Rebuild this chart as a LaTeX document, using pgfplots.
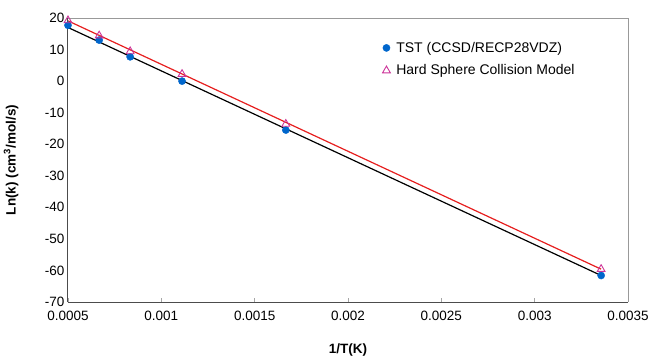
\documentclass[border=0pt]{standalone}
\usepackage{pgfplots}
\pgfplotsset{compat=1.18}
\usepackage{fontspec}
\setmainfont{Liberation Sans}
\definecolor{tstblue}{RGB}{0,102,204}
\definecolor{hsmag}{RGB}{204,51,153}
\definecolor{fitred}{RGB}{230,30,30}
\begin{document}
\begin{tikzpicture}[x=1pt,y=1pt]
\begin{axis}[
  at={(0pt,0pt)}, anchor=south west,
  scale only axis, width=560pt, height=284pt,
  xmin=0.0005, xmax=0.0035, ymin=-70, ymax=20,
  xtick={0.0005,0.001,...,0.0035},
  xticklabels={0.0005,0.001,0.0015,0.002,0.0025,0.003,0.0035},
  ytick={-70,-60,...,20},
  tick label style={font=\fontsize{13.5}{15}\selectfont},
  /pgf/number format/assume math mode=true,
  scaled x ticks=false,
  xticklabel style={yshift=-6pt},
  axis x line*=bottom, axis y line*=left,
  axis line style={draw=black!70, line width=1pt},
  x tick style={draw=black!35, line width=0.8pt},
  ytick style={draw=none},
  tick align=inside, major tick length=4pt,
  xlabel={\bfseries 1/T(K)},
  ylabel={\bfseries Ln(k) (cm$^{\mathbf{3}}$/mol/s)},
  label style={font=\fontsize{13.5}{15}\selectfont},
  xlabel style={at={(axis description cs:0.5,0)}, anchor=north, yshift=-38pt},
  ylabel style={at={(axis description cs:0,0.5)}, anchor=south, yshift=46pt},
  legend style={draw=none, fill=none, at={(0.556,0.93)}, anchor=north west,
    font=\fontsize{14}{16}\selectfont, row sep=7pt, cells={anchor=west}},
  legend cell align=left,
  legend image code/.code={\draw[#1] plot coordinates {(0.1cm,0cm)};},
  clip=false,
]
% fitted lines
\addplot[black, line width=1.2pt, forget plot] coordinates {(0.0005,17.0) (0.003356,-61.6)};
\addplot[fitred, line width=1.2pt, forget plot] coordinates {(0.0005,19.1) (0.003356,-59.6)};
\addplot[only marks, mark=*, mark size=3.6pt, color=tstblue] coordinates {
 (0.0005,17.7) (0.000667,13.0) (0.000833,7.7) (0.001111,0.0) (0.001667,-15.5) (0.003356,-61.6)};
\addlegendentry{\hspace{4pt}TST (CCSD/RECP28VDZ)}
\addplot[only marks, mark=triangle, mark size=4.5pt, color=hsmag, mark options={line width=0.9pt}] coordinates {
 (0.0005,19.2) (0.000667,14.4) (0.000833,9.4) (0.001111,2.2) (0.001667,-13.6) (0.003356,-59.6)};
\addlegendentry{\hspace{4pt}Hard Sphere Collision Model}
\draw[black!40, line width=1pt] (rel axis cs:0,1) -- (rel axis cs:1,1) -- (rel axis cs:1,0);
\end{axis}
\path[use as bounding box] (-68pt,-58pt) rectangle (584pt,302pt);
\end{tikzpicture}
\end{document}
